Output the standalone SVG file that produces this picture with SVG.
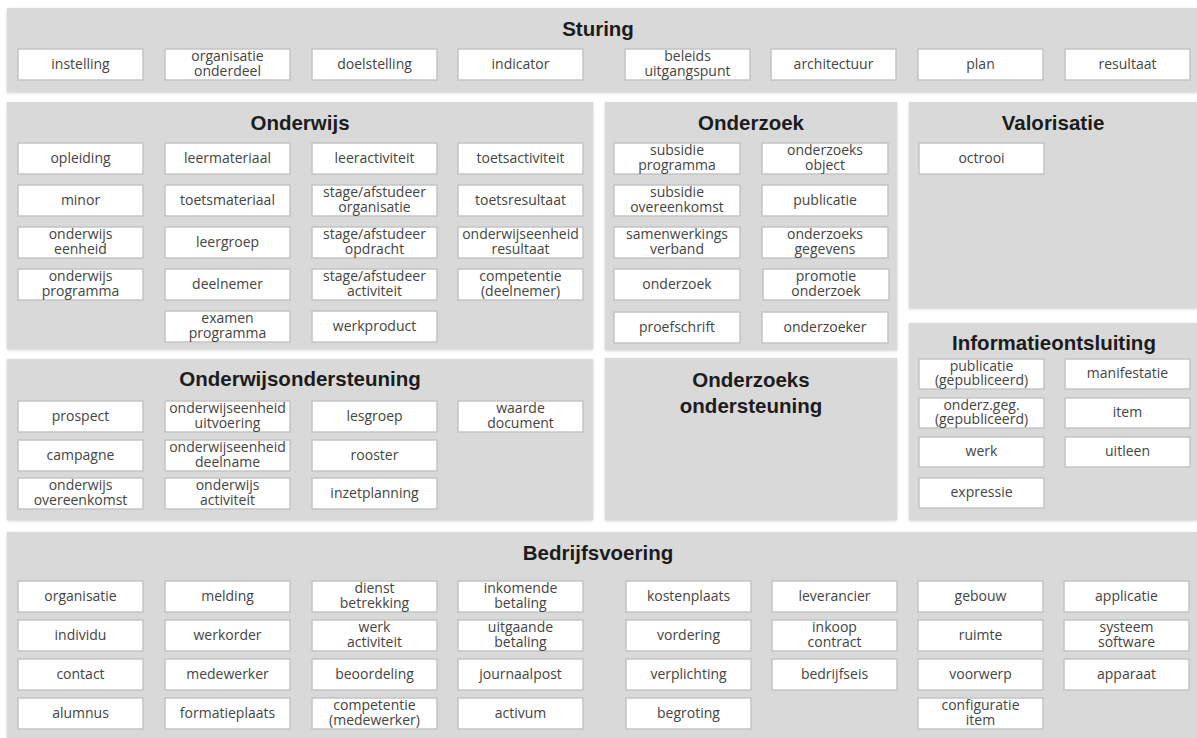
<svg xmlns="http://www.w3.org/2000/svg" width="1197" height="738" viewBox="0 0 1197 738">
  <defs>
    <filter id="soft" x="-5%" y="-5%" width="110%" height="110%">
      <feDropShadow dx="0" dy="1" stdDeviation="1.5" flood-color="#000000" flood-opacity="0.18"/>
    </filter>
  </defs>
  <style>
    .panel { fill: #d9d9d9; filter: url(#soft); }
    .title { font-family: "Liberation Sans", Arial, sans-serif; font-weight: bold; font-size: 20.5px; fill: #1c1c1c; text-anchor: middle; }
    .node rect { fill: #ffffff; stroke: #c4c4c4; stroke-width: 1.5; }
    .node text { font-family: "Open Sans", "Noto Sans", sans-serif; font-size: 14px; fill: #444444; text-anchor: middle; }
  </style>
  <rect width="1197" height="738" fill="#ffffff"/>

  <!-- domain panels -->
  <g id="panels">
    <rect class="panel" x="7" y="8" width="1190" height="84"/>
    <rect class="panel" x="7" y="102" width="586" height="247"/>
    <rect class="panel" x="605" y="102" width="292" height="248"/>
    <rect class="panel" x="909" y="102" width="288" height="206"/>
    <rect class="panel" x="909" y="323" width="288" height="197"/>
    <rect class="panel" x="7" y="359" width="586" height="161"/>
    <rect class="panel" x="605" y="358" width="292" height="162"/>
    <rect class="panel" x="7" y="532" width="1190" height="206"/>
  </g>

  <!-- panel titles -->
  <g id="titles">
    <text class="title" x="598" y="35.5">Sturing</text>
    <text class="title" x="300" y="129.5">Onderwijs</text>
    <text class="title" x="751" y="129.5">Onderzoek</text>
    <text class="title" x="1053" y="129.5">Valorisatie</text>
    <text class="title" x="1054" y="349.5">Informatieontsluiting</text>
    <text class="title" x="300" y="385.5">Onderwijsondersteuning</text>
    <text class="title" x="751" y="386.5">Onderzoeks</text>
    <text class="title" x="751" y="412.5">ondersteuning</text>
    <text class="title" x="598" y="559.5">Bedrijfsvoering</text>
  </g>

  <!-- Sturing -->
  <g id="instelling" class="node"><rect x="18" y="49" width="125" height="31"/><text x="80.5" y="69">instelling</text></g>
  <g id="organisatie-onderdeel" class="node"><rect x="165" y="49" width="125" height="31"/><text x="227.5" y="61">organisatie</text><text x="227.5" y="76">onderdeel</text></g>
  <g id="doelstelling" class="node"><rect x="312" y="49" width="125" height="31"/><text x="374.5" y="69">doelstelling</text></g>
  <g id="indicator" class="node"><rect x="458" y="49" width="125" height="31"/><text x="520.5" y="69">indicator</text></g>
  <g id="beleids-uitgangspunt" class="node"><rect x="625" y="49" width="125" height="31"/><text x="687.5" y="61">beleids</text><text x="687.5" y="76">uitgangspunt</text></g>
  <g id="architectuur" class="node"><rect x="771" y="49" width="125" height="31"/><text x="833.5" y="69">architectuur</text></g>
  <g id="plan" class="node"><rect x="918" y="49" width="125" height="31"/><text x="980.5" y="69">plan</text></g>
  <g id="resultaat" class="node"><rect x="1065" y="49" width="125" height="31"/><text x="1127.5" y="69">resultaat</text></g>

  <!-- Onderwijs -->
  <g id="opleiding" class="node"><rect x="18" y="143" width="125" height="31"/><text x="80.5" y="163">opleiding</text></g>
  <g id="leermateriaal" class="node"><rect x="165" y="143" width="125" height="31"/><text x="227.5" y="163">leermateriaal</text></g>
  <g id="leeractiviteit" class="node"><rect x="312" y="143" width="125" height="31"/><text x="374.5" y="163">leeractiviteit</text></g>
  <g id="toetsactiviteit" class="node"><rect x="458" y="143" width="125" height="31"/><text x="520.5" y="163">toetsactiviteit</text></g>

  <g id="minor" class="node"><rect x="18" y="185" width="125" height="31"/><text x="80.5" y="205">minor</text></g>
  <g id="toetsmateriaal" class="node"><rect x="165" y="185" width="125" height="31"/><text x="227.5" y="205">toetsmateriaal</text></g>
  <g id="stage-afstudeer-organisatie" class="node"><rect x="312" y="185" width="125" height="31"/><text x="374.5" y="197">stage/afstudeer</text><text x="374.5" y="212">organisatie</text></g>
  <g id="toetsresultaat" class="node"><rect x="458" y="185" width="125" height="31"/><text x="520.5" y="205">toetsresultaat</text></g>

  <g id="onderwijs-eenheid" class="node"><rect x="18" y="227" width="125" height="31"/><text x="80.5" y="239">onderwijs</text><text x="80.5" y="254">eenheid</text></g>
  <g id="leergroep" class="node"><rect x="165" y="227" width="125" height="31"/><text x="227.5" y="247">leergroep</text></g>
  <g id="stage-afstudeer-opdracht" class="node"><rect x="312" y="227" width="125" height="31"/><text x="374.5" y="239">stage/afstudeer</text><text x="374.5" y="254">opdracht</text></g>
  <g id="onderwijseenheid-resultaat" class="node"><rect x="458" y="227" width="125" height="31"/><text x="520.5" y="239">onderwijseenheid</text><text x="520.5" y="254">resultaat</text></g>

  <g id="onderwijs-programma" class="node"><rect x="18" y="269" width="125" height="31"/><text x="80.5" y="281">onderwijs</text><text x="80.5" y="296">programma</text></g>
  <g id="deelnemer" class="node"><rect x="165" y="269" width="125" height="31"/><text x="227.5" y="289">deelnemer</text></g>
  <g id="stage-afstudeer-activiteit" class="node"><rect x="312" y="269" width="125" height="31"/><text x="374.5" y="281">stage/afstudeer</text><text x="374.5" y="296">activiteit</text></g>
  <g id="competentie-deelnemer" class="node"><rect x="458" y="269" width="125" height="31"/><text x="520.5" y="281">competentie</text><text x="520.5" y="296">(deelnemer)</text></g>

  <g id="examen-programma" class="node"><rect x="165" y="311" width="125" height="31"/><text x="227.5" y="323">examen</text><text x="227.5" y="338">programma</text></g>
  <g id="werkproduct" class="node"><rect x="312" y="311" width="125" height="31"/><text x="374.5" y="331">werkproduct</text></g>

  <!-- Onderzoek -->
  <g id="subsidie-programma" class="node"><rect x="614" y="143" width="126" height="31"/><text x="677" y="155">subsidie</text><text x="677" y="170">programma</text></g>
  <g id="onderzoeks-object" class="node"><rect x="762" y="143" width="126" height="31"/><text x="825" y="155">onderzoeks</text><text x="825" y="170">object</text></g>
  <g id="subsidie-overeenkomst" class="node"><rect x="614" y="185" width="126" height="31"/><text x="677" y="197">subsidie</text><text x="677" y="212">overeenkomst</text></g>
  <g id="publicatie" class="node"><rect x="762" y="185" width="126" height="31"/><text x="825" y="205">publicatie</text></g>
  <g id="samenwerkings-verband" class="node"><rect x="614" y="227" width="126" height="31"/><text x="677" y="239">samenwerkings</text><text x="677" y="254">verband</text></g>
  <g id="onderzoeks-gegevens" class="node"><rect x="762" y="227" width="126" height="31"/><text x="825" y="239">onderzoeks</text><text x="825" y="254">gegevens</text></g>
  <g id="onderzoek" class="node"><rect x="614" y="269" width="126" height="31"/><text x="677" y="289">onderzoek</text></g>
  <g id="promotie-onderzoek" class="node"><rect x="763" y="269" width="126" height="31"/><text x="826" y="281">promotie</text><text x="826" y="296">onderzoek</text></g>
  <g id="proefschrift" class="node"><rect x="614" y="312" width="126" height="31"/><text x="677" y="332">proefschrift</text></g>
  <g id="onderzoeker" class="node"><rect x="762" y="312" width="126" height="31"/><text x="825" y="332">onderzoeker</text></g>

  <!-- Valorisatie -->
  <g id="octrooi" class="node"><rect x="919" y="143" width="125" height="31"/><text x="981.5" y="163">octrooi</text></g>

  <!-- Informatieontsluiting -->
  <g id="publicatie-gepubliceerd" class="node"><rect x="919" y="359" width="125" height="30"/><text x="981.5" y="371">publicatie</text><text x="981.5" y="385">(gepubliceerd)</text></g>
  <g id="manifestatie" class="node"><rect x="1065" y="359" width="125" height="30"/><text x="1127.5" y="378">manifestatie</text></g>
  <g id="onderz-geg-gepubliceerd" class="node"><rect x="919" y="398" width="125" height="30"/><text x="981.5" y="410">onderz.geg.</text><text x="981.5" y="424">(gepubliceerd)</text></g>
  <g id="item" class="node"><rect x="1065" y="398" width="125" height="30"/><text x="1127.5" y="417">item</text></g>
  <g id="werk" class="node"><rect x="919" y="437" width="125" height="30"/><text x="981.5" y="456">werk</text></g>
  <g id="uitleen" class="node"><rect x="1065" y="437" width="125" height="30"/><text x="1127.5" y="456">uitleen</text></g>
  <g id="expressie" class="node"><rect x="919" y="478" width="125" height="30"/><text x="981.5" y="497">expressie</text></g>

  <!-- Onderwijsondersteuning -->
  <g id="prospect" class="node"><rect x="18" y="401" width="125" height="31"/><text x="80.5" y="421">prospect</text></g>
  <g id="onderwijseenheid-uitvoering" class="node"><rect x="165" y="401" width="125" height="31"/><text x="227.5" y="413">onderwijseenheid</text><text x="227.5" y="428">uitvoering</text></g>
  <g id="lesgroep" class="node"><rect x="312" y="401" width="125" height="31"/><text x="374.5" y="421">lesgroep</text></g>
  <g id="waarde-document" class="node"><rect x="458" y="401" width="125" height="31"/><text x="520.5" y="413">waarde</text><text x="520.5" y="428">document</text></g>
  <g id="campagne" class="node"><rect x="18" y="440" width="125" height="31"/><text x="80.5" y="460">campagne</text></g>
  <g id="onderwijseenheid-deelname" class="node"><rect x="165" y="440" width="125" height="31"/><text x="227.5" y="452">onderwijseenheid</text><text x="227.5" y="467">deelname</text></g>
  <g id="rooster" class="node"><rect x="312" y="440" width="125" height="31"/><text x="374.5" y="460">rooster</text></g>
  <g id="onderwijs-overeenkomst" class="node"><rect x="18" y="478" width="125" height="31"/><text x="80.5" y="490">onderwijs</text><text x="80.5" y="505">overeenkomst</text></g>
  <g id="onderwijs-activiteit" class="node"><rect x="165" y="478" width="125" height="31"/><text x="227.5" y="490">onderwijs</text><text x="227.5" y="505">activiteit</text></g>
  <g id="inzetplanning" class="node"><rect x="312" y="478" width="125" height="31"/><text x="374.5" y="498">inzetplanning</text></g>

  <!-- Bedrijfsvoering -->
  <g id="organisatie" class="node"><rect x="18" y="581" width="125" height="31"/><text x="80.5" y="601">organisatie</text></g>
  <g id="melding" class="node"><rect x="165" y="581" width="125" height="31"/><text x="227.5" y="601">melding</text></g>
  <g id="dienst-betrekking" class="node"><rect x="312" y="581" width="125" height="31"/><text x="374.5" y="593">dienst</text><text x="374.5" y="608">betrekking</text></g>
  <g id="inkomende-betaling" class="node"><rect x="458" y="581" width="125" height="31"/><text x="520.5" y="593">inkomende</text><text x="520.5" y="608">betaling</text></g>
  <g id="kostenplaats" class="node"><rect x="626" y="581" width="125" height="31"/><text x="688.5" y="601">kostenplaats</text></g>
  <g id="leverancier" class="node"><rect x="772" y="581" width="125" height="31"/><text x="834.5" y="601">leverancier</text></g>
  <g id="gebouw" class="node"><rect x="918" y="581" width="125" height="31"/><text x="980.5" y="601">gebouw</text></g>
  <g id="applicatie" class="node"><rect x="1064" y="581" width="125" height="31"/><text x="1126.5" y="601">applicatie</text></g>

  <g id="individu" class="node"><rect x="18" y="620" width="125" height="31"/><text x="80.5" y="640">individu</text></g>
  <g id="werkorder" class="node"><rect x="165" y="620" width="125" height="31"/><text x="227.5" y="640">werkorder</text></g>
  <g id="werk-activiteit" class="node"><rect x="312" y="620" width="125" height="31"/><text x="374.5" y="632">werk</text><text x="374.5" y="647">activiteit</text></g>
  <g id="uitgaande-betaling" class="node"><rect x="458" y="620" width="125" height="31"/><text x="520.5" y="632">uitgaande</text><text x="520.5" y="647">betaling</text></g>
  <g id="vordering" class="node"><rect x="626" y="620" width="125" height="31"/><text x="688.5" y="640">vordering</text></g>
  <g id="inkoop-contract" class="node"><rect x="772" y="620" width="125" height="31"/><text x="834.5" y="632">inkoop</text><text x="834.5" y="647">contract</text></g>
  <g id="ruimte" class="node"><rect x="918" y="620" width="125" height="31"/><text x="980.5" y="640">ruimte</text></g>
  <g id="systeem-software" class="node"><rect x="1064" y="620" width="125" height="31"/><text x="1126.5" y="632">systeem</text><text x="1126.5" y="647">software</text></g>

  <g id="contact" class="node"><rect x="18" y="659" width="125" height="31"/><text x="80.5" y="679">contact</text></g>
  <g id="medewerker" class="node"><rect x="165" y="659" width="125" height="31"/><text x="227.5" y="679">medewerker</text></g>
  <g id="beoordeling" class="node"><rect x="312" y="659" width="125" height="31"/><text x="374.5" y="679">beoordeling</text></g>
  <g id="journaalpost" class="node"><rect x="458" y="659" width="125" height="31"/><text x="520.5" y="679">journaalpost</text></g>
  <g id="verplichting" class="node"><rect x="626" y="659" width="125" height="31"/><text x="688.5" y="679">verplichting</text></g>
  <g id="bedrijfseis" class="node"><rect x="772" y="659" width="125" height="31"/><text x="834.5" y="679">bedrijfseis</text></g>
  <g id="voorwerp" class="node"><rect x="918" y="659" width="125" height="31"/><text x="980.5" y="679">voorwerp</text></g>
  <g id="apparaat" class="node"><rect x="1064" y="659" width="125" height="31"/><text x="1126.5" y="679">apparaat</text></g>

  <g id="alumnus" class="node"><rect x="18" y="698" width="125" height="31"/><text x="80.5" y="718">alumnus</text></g>
  <g id="formatieplaats" class="node"><rect x="165" y="698" width="125" height="31"/><text x="227.5" y="718">formatieplaats</text></g>
  <g id="competentie-medewerker" class="node"><rect x="312" y="698" width="125" height="31"/><text x="374.5" y="710">competentie</text><text x="374.5" y="725">(medewerker)</text></g>
  <g id="activum" class="node"><rect x="458" y="698" width="125" height="31"/><text x="520.5" y="718">activum</text></g>
  <g id="begroting" class="node"><rect x="626" y="698" width="125" height="31"/><text x="688.5" y="718">begroting</text></g>
  <g id="configuratie-item" class="node"><rect x="918" y="698" width="125" height="31"/><text x="980.5" y="710">configuratie</text><text x="980.5" y="725">item</text></g>
</svg>
